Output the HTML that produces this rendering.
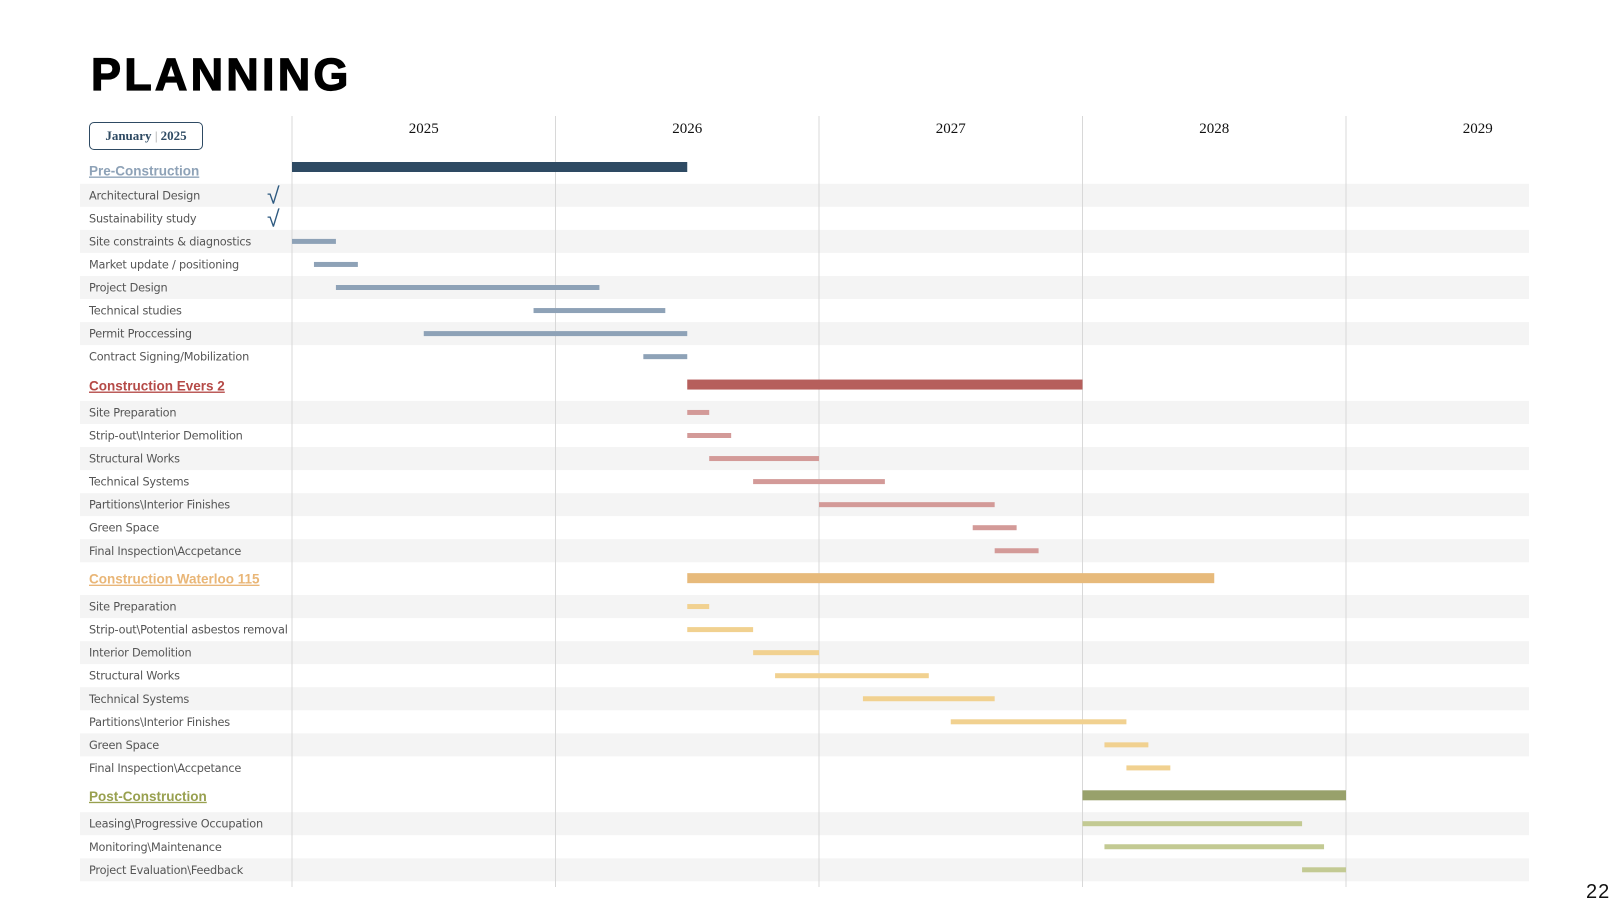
<!DOCTYPE html>
<html><head><meta charset="utf-8">
<style>
html,body{margin:0;padding:0;background:#fff;}
body{width:1620px;height:912px;position:relative;overflow:hidden;font-family:"Liberation Sans",sans-serif;}
#title{position:absolute;left:91px;top:49px;font-size:45px;font-weight:900;letter-spacing:3.2px;color:#000;font-family:"Liberation Sans",sans-serif;-webkit-text-stroke:1.2px #000;}
#datebox{position:absolute;left:89px;top:122px;width:114px;height:28px;border:1.5px solid #2e4a63;border-radius:5px;font-family:"Liberation Serif",serif;font-weight:bold;font-size:13px;color:#2e4a63;line-height:26px;text-align:center;box-sizing:border-box;}
#pagenum{position:absolute;left:1586px;top:881px;font-size:20px;color:#111;letter-spacing:1px;}
svg{position:absolute;left:0;top:0;}
</style></head><body>
<div id="title">PLANNING</div>
<div id="datebox">January <span style="color:#999;font-weight:normal">|</span> 2025</div>
<div id="pagenum">22</div>
<svg id="chart" width="1620" height="912"></svg>
<script>
const years = ["2025","2026","2027","2028","2029"];
const sections = ["Pre-Construction","Construction Evers 2","Construction Waterloo 115","Post-Construction"];
const sectionStart = [0,18,18,36];
const sectionEnd = [18,36,42,48];
const taskSection = [0,0,0,0,0,0,0,0, 1,1,1,1,1,1,1, 2,2,2,2,2,2,2,2, 3,3,3];
const taskNames = ["Architectural Design","Sustainability study","Site constraints & diagnostics","Market update / positioning","Project Design","Technical studies","Permit Proccessing","Contract Signing/Mobilization",
"Site Preparation","Strip-out\\Interior Demolition","Structural Works","Technical Systems","Partitions\\Interior Finishes","Green Space","Final Inspection\\Accpetance",
"Site Preparation","Strip-out\\Potential asbestos removal","Interior Demolition","Structural Works","Technical Systems","Partitions\\Interior Finishes","Green Space","Final Inspection\\Accpetance",
"Leasing\\Progressive Occupation","Monitoring\\Maintenance","Project Evaluation\\Feedback"];
const taskStart = [null,null,0,1,2,11,6,16, 18,18,19,21,24,31,32, 18,18,21,22,26,30,37,38, 36,37,46];
const taskEnd   = [null,null,2,3,14,17,18,18, 19,20,24,27,32,33,34, 19,21,24,29,32,38,39,40, 46,47,48];
const taskDone  = [true,true,false,false,false,false,false,false, false,false,false,false,false,false,false, false,false,false,false,false,false,false,false, false,false,false];

const mainColor=["#2e4a63","#b65f5c","#e7ba7b","#98a16b"];
const subColor=["#8ea2b7","#d39a98","#f1d190","#c3ca93"];
const textColor=["#8ea2b7","#b54a47","#e9b677","#98a04f"];

const svg=document.getElementById('chart');
const NS="http://www.w3.org/2000/svg";
const X0=292, YEARW=263.5;
const x=m=>X0+m*YEARW/12;
function mk(t,a){const e=document.createElementNS(NS,t);for(const k in a)e.setAttribute(k,a[k]);svg.appendChild(e);return e;}

const headGap=[24.8,26.9,27.9,27.9];
const preHeadGap=[0,28.9,27.9,27.9];
const barOff=[-3.5,-1,-0.5,-0.5];
let y=170.5; const rowY=[]; const headY=[];
let prev=-1; const ROW=23.05;
for(let i=0;i<taskSection.length;i++){
  const s=taskSection[i];
  if(s!==prev){ if(prev>=0) y+=preHeadGap[s]; headY[s]=y; y+=headGap[s]; prev=s; } else y+=ROW;
  rowY[i]=y;
}
let stripeIdx=0;prev=-1;
for(let i=0;i<taskSection.length;i++){
  if(taskSection[i]!==prev){stripeIdx=0;prev=taskSection[i];}
  if(stripeIdx%2===0){
    const r=mk('rect',{x:80,y:rowY[i]-11.5,width:1449,height:23,fill:'#f4f4f4'});
    
    
  }
  stripeIdx++;
}
for(let k=0;k<years.length;k++){
  const l=mk('line',{x1:x(k*12),x2:x(k*12),y1:116,y2:887,stroke:'#d8d8d8','stroke-width':1});
  
  
  const t=mk('text',{x:x(k*12+6),y:133,'text-anchor':'middle','font-family':'Liberation Serif, serif','font-size':15,fill:'#111'});
  t.textContent=years[k];
  
  
}
for(let s=0;s<sections.length;s++){
  const t=mk('text',{x:89,y:headY[s]+5,'font-size':13.5,'font-weight':'bold',fill:textColor[s],'text-decoration':'underline'});
  t.textContent=sections[s];
  
  
  const b=mk('rect',{x:x(sectionStart[s]),y:headY[s]-5+barOff[s],width:x(sectionEnd[s])-x(sectionStart[s]),height:10,fill:mainColor[s]});
  
  
}
for(let i=0;i<taskNames.length;i++){
  const s=taskSection[i];
  const t=mk('text',{x:89,y:rowY[i]+4,'font-size':11.3,fill:'#555','font-family':'DejaVu Sans, sans-serif','letter-spacing':'-0.2'});
  t.textContent=taskNames[i];
  
  
  if(taskStart[i]!==null){
    const b=mk('rect',{x:x(taskStart[i]),y:rowY[i]-2.5,width:x(taskEnd[i])-x(taskStart[i]),height:5,fill:subColor[s]});
    
    
  }
  if(taskDone[i]){
    const c=mk('text',{x:267,y:rowY[i]+8,'font-size':23,fill:'#2e5a80'});
    c.textContent='\u221A';
    
    
  }
}
</script>
</body></html>
